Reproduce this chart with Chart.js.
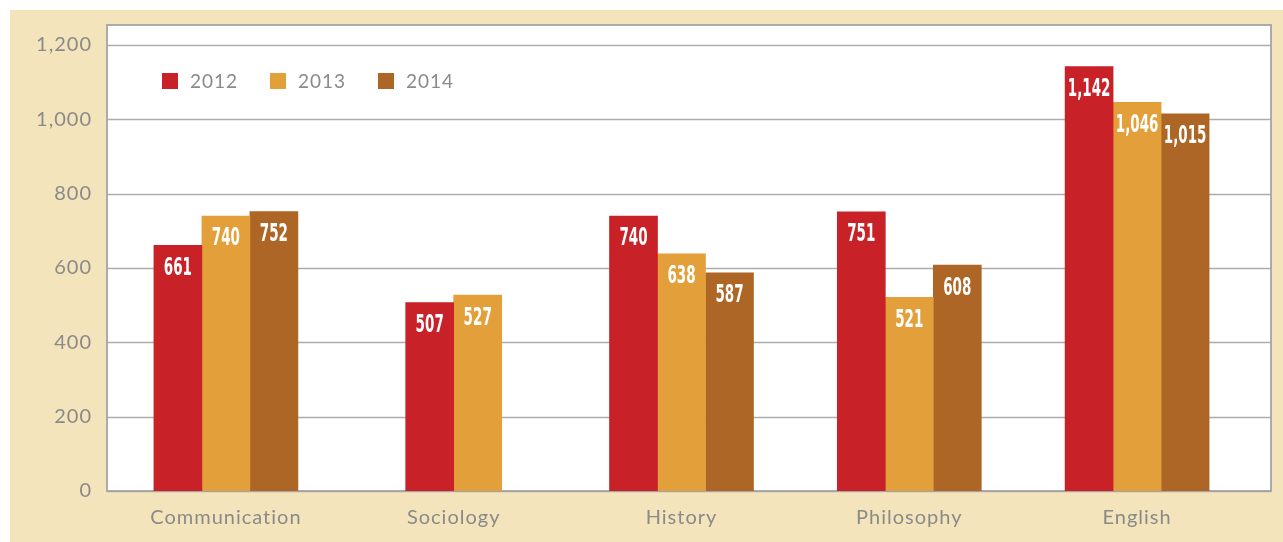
<!DOCTYPE html>
<html>
<head>
<meta charset="utf-8">
<script src="https://cdn.jsdelivr.net/npm/chart.js@4/dist/chart.umd.min.js"></script>
<style>
  html, body { margin: 0; padding: 0; background: #fff; }
  #marco { position: absolute; left: 10px; top: 10px; width: 1273px; height: 532px; background: #f4e4bb; }
  #grafica { display: block; }
</style>
</head>
<body>
<div id="marco"><canvas id="grafica" width="1273" height="532"></canvas></div>
<script>
// Datos del gráfico
const categorias = ['Communication', 'Sociology', 'History', 'Philosophy', 'English'];
const anios = ['2012', '2013', '2014'];
const datos2012 = [661, 507, 740, 751, 1142];
const datos2013 = [740, 527, 638, 521, 1046];
const datos2014 = [752, null, 587, 608, 1015];
const ticksY = [0, 200, 400, 600, 800, 1000, 1200];

const colores = ['#c82127', '#e3a03a', '#ad6625'];
const GRIS_TEXTO = '#8a8a8a';
const FUENTE = 'Lato, "Open Sans", sans-serif';

const fmt = v => v.toLocaleString('en-US');

// Marco blanco y líneas de guía, dibujados desde la escala Y
const marcoPlugin = {
    id: 'marco',
    beforeDatasetsDraw(chart) {
        const {ctx, chartArea: a, scales: {y}} = chart;
        const izq = a.left - 5, der = a.right + 20, arriba = a.top - 20;
        ctx.save();
        ctx.fillStyle = '#fff';
        ctx.fillRect(izq, arriba, der - izq, a.bottom - arriba);
        ctx.strokeStyle = '#acacac';
        ctx.lineWidth = 1.5;
        ticksY.forEach(t => {
            const py = Math.round(y.getPixelForValue(t)) + 0.5;
            ctx.beginPath();
            ctx.moveTo(izq, py);
            ctx.lineTo(der, py);
            ctx.stroke();
        });
        ctx.strokeStyle = '#a4a4a4';
        ctx.lineWidth = 1.8;
        ctx.strokeRect(izq, arriba, der - izq, a.bottom - arriba);
        ctx.restore();
    }
};

// Leyenda dentro del área de trazado
const leyendaPlugin = {
    id: 'leyendaInterna',
    afterDraw(chart) {
        const {ctx, chartArea: a} = chart;
        ctx.save();
        ctx.font = '19px ' + FUENTE;
        ctx.letterSpacing = '1px';
        ctx.textBaseline = 'middle';
        ctx.textAlign = 'left';
        chart.data.datasets.forEach((ds, i) => {
            const x = a.left + 50 + i * 108;
            const yTop = a.top + 28;
            ctx.fillStyle = ds.backgroundColor;
            ctx.fillRect(x, yTop, 16, 16);
            ctx.fillStyle = GRIS_TEXTO;
            ctx.fillText(ds.label, x + 28, yTop + 9);
        });
        ctx.restore();
    }
};

// Etiquetas de valor dentro de cada barra (texto estrecho)
const etiquetasPlugin = {
    id: 'etiquetas',
    afterDatasetsDraw(chart) {
        const {ctx} = chart;
        ctx.save();
        ctx.letterSpacing = '0px';
        ctx.fillStyle = '#fff';
        ctx.textAlign = 'center';
        ctx.textBaseline = 'middle';
        ctx.font = 'bold 25px "DejaVu Sans Condensed", "DejaVu Sans", sans-serif';
        chart.data.datasets.forEach((ds, i) => {
            const meta = chart.getDatasetMeta(i);
            meta.data.forEach((bar, j) => {
                const v = ds.data[j];
                if (v === null || v === undefined) return;
                ctx.save();
                ctx.translate(bar.x, bar.y + 23);
                ctx.scale(0.6, 1);
                ctx.fillText(fmt(v), 0, 0);
                ctx.restore();
            });
        });
        ctx.restore();
    }
};

const espaciado = {
    id: 'espaciado',
    beforeDraw(chart) { chart.ctx.letterSpacing = '1px'; }
};

const series = [datos2012, datos2013, datos2014];

new Chart(document.getElementById('grafica'), {
    type: 'bar',
    data: {
        labels: categorias,
        datasets: anios.map((a, i) => ({
            label: a,
            data: series[i],
            backgroundColor: colores[i],
            barThickness: 48,
            skipNull: true
        }))
    },
    options: {
        responsive: false,
        animation: false,
        layout: { padding: { left: 22, right: 32, top: 35, bottom: 11 } },
        plugins: { legend: { display: false }, tooltip: { enabled: false } },
        scales: {
            x: {
                grid: { display: false, drawTicks: false },
                border: { display: false },
                ticks: { color: GRIS_TEXTO, font: { family: FUENTE, size: 20 }, padding: 15 },
                afterFit: s => { s.height = 40; }
            },
            y: {
                min: 0,
                max: 1200,
                afterBuildTicks: s => { s.ticks = ticksY.map(v => ({ value: v })); },
                grid: { display: false, drawTicks: false },
                border: { display: false },
                ticks: { color: GRIS_TEXTO, font: { family: FUENTE, size: 20 }, padding: 20, callback: v => fmt(v) },
                afterFit: s => { s.width = 80; }
            }
        }
    },
    plugins: [espaciado, marcoPlugin, etiquetasPlugin, leyendaPlugin]
});
</script>
</body>
</html>
